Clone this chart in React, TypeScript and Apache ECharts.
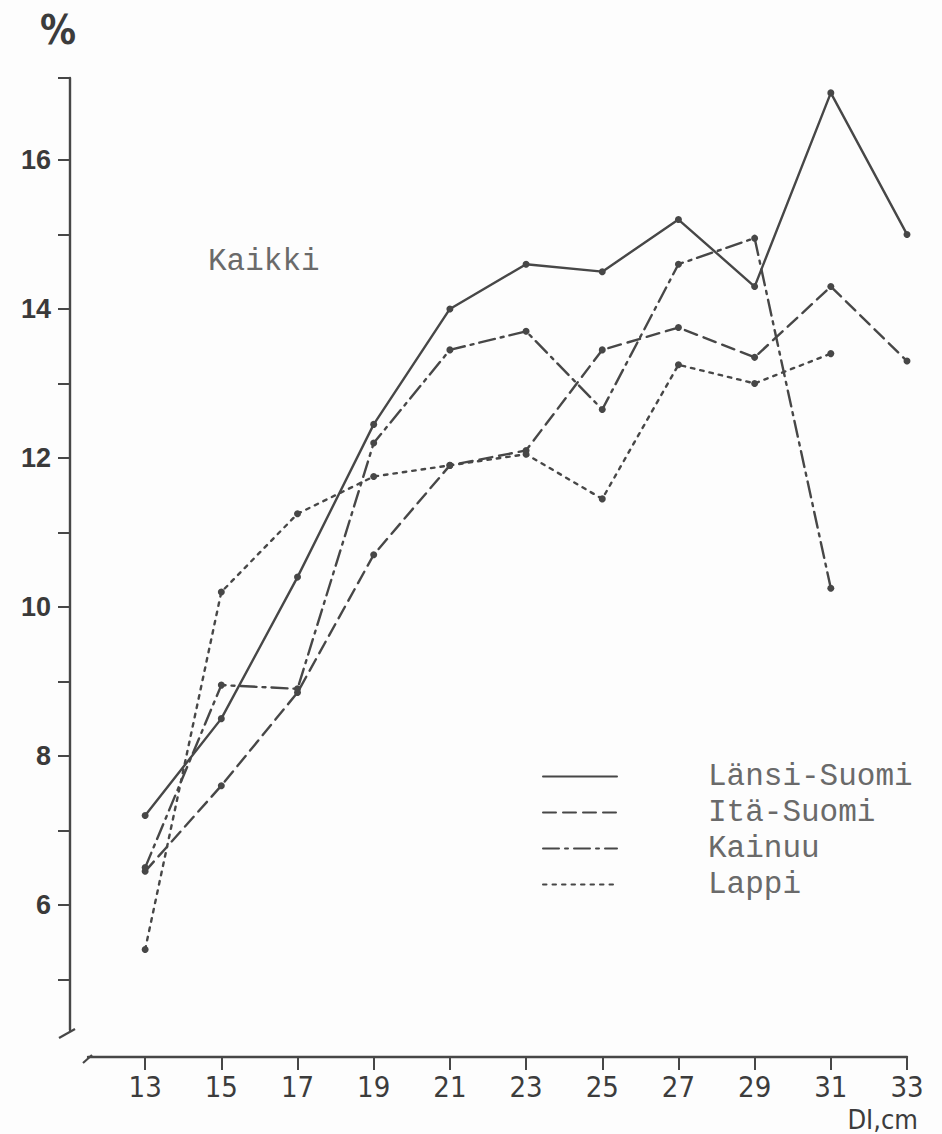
import React, { useEffect, useRef } from "react";
import * as echarts from "echarts";

// Diameter classes (DI, cm) and the share (%) for each region
const diameters = [13, 15, 17, 19, 21, 23, 25, 27, 29, 31, 33];
const lansiSuomi = [7.2, 8.5, 10.4, 12.45, 14.0, 14.6, 14.5, 15.2, 14.3, 16.9, 15.0];
const itaSuomi = [6.45, 7.6, 8.85, 10.7, 11.9, 12.1, 13.45, 13.75, 13.35, 14.3, 13.3];
const kainuu = [6.5, 8.95, 8.9, 12.2, 13.45, 13.7, 12.65, 14.6, 14.95, 10.25];
const lappi = [5.4, 10.2, 11.25, 11.75, 11.9, 12.05, 11.45, 13.25, 13.0, 13.4];

const seriesNames = ["Länsi-Suomi", "Itä-Suomi", "Kainuu", "Lappi"];

// Axis ticks and labels
const xTickValues = [13, 15, 17, 19, 21, 23, 25, 27, 29, 31, 33];
const yTickValues = [5, 6, 7, 8, 9, 10, 11, 12, 13, 14, 15, 16, 17.1];
const yLabelValues = [6, 8, 10, 12, 14, 16];

const X_MIN = 11.5;
const X_MAX = 33;
const Y_MIN = 4.32;
const Y_MAX = 17.1;

const INK = "#474747";
const TYPE_INK = "#6a6a6a";
const NARROW = "'Liberation Sans Narrow', 'DejaVu Sans Condensed', 'Liberation Sans', sans-serif";
const MONO = "'Liberation Mono', 'DejaVu Sans Mono', monospace";

const pairs = (values: number[]) => values.map((v, i) => [diameters[i], v]);

export default function App() {
  const ref = useRef<HTMLDivElement>(null);

  useEffect(() => {
    if (!ref.current) return;
    const chart = echarts.init(ref.current, null, { renderer: "svg" });

    const lineSeries = (name: string, values: number[], type: any) => ({
      name,
      type: "line",
      data: pairs(values),
      symbol: "circle",
      symbolSize: 7,
      itemStyle: { color: INK },
      lineStyle: { color: INK, width: 2.4, type, cap: "round" },
      z: 3,
    });

    chart.setOption({
      animation: false,
      backgroundColor: "#fdfdfd",
      grid: { left: 88, right: 35, top: 78, bottom: 104 },
      xAxis: {
        type: "value",
        min: X_MIN,
        max: X_MAX,
        offset: 27,
        axisLine: { show: true, lineStyle: { color: INK, width: 2.4 } },
        axisTick: {
          show: true,
          length: 13,
          customValues: xTickValues,
          lineStyle: { color: INK, width: 2 },
        },
        axisLabel: {
          customValues: xTickValues,
          margin: 15,
          fontFamily: NARROW,
          fontSize: 29,
          lineHeight: 29,
          color: "#3c3c3c",
        },
        splitLine: { show: false },
      },
      yAxis: {
        type: "value",
        min: Y_MIN,
        max: Y_MAX,
        offset: 18,
        axisLine: { show: true, lineStyle: { color: INK, width: 2.4 } },
        axisTick: {
          show: true,
          length: 12,
          customValues: yTickValues,
          lineStyle: { color: INK, width: 2 },
        },
        axisLabel: {
          customValues: yLabelValues,
          margin: 19,
          fontFamily: "'Liberation Sans', Arial, sans-serif",
          fontWeight: "bold",
          fontSize: 27,
          color: "#3a3a3a",
        },
        splitLine: { show: false },
      },
      legend: {
        orient: "vertical",
        left: 537,
        top: 756,
        itemWidth: 74,
        itemHeight: 4,
        itemGap: 5,
        itemStyle: { opacity: 0 },
        selectedMode: false,
        data: seriesNames,
        textStyle: {
          fontFamily: MONO,
          fontSize: 31,
          lineHeight: 31,
          color: TYPE_INK,
          padding: [0, 0, 0, 86],
        },
      },
      graphic: [
        {
          type: "text",
          left: 208,
          top: 246,
          style: { text: "Kaikki", font: `31px ${MONO}`, fill: TYPE_INK },
        },
        {
          type: "text",
          x: 58,
          y: 30,
          style: {
            text: "%",
            font: `bold 40px ${NARROW}`,
            fill: "#3c3c3c",
            align: "center",
            verticalAlign: "middle",
          },
        },
        {
          type: "text",
          x: 918,
          y: 1119,
          style: {
            text: "DI,cm",
            font: `27px ${NARROW}`,
            fill: "#3c3c3c",
            align: "right",
            verticalAlign: "middle",
          },
        },
        // hand-drawn hooks at the free ends of the axes
        {
          type: "line",
          shape: { x1: 75, y1: 1029, x2: 59, y2: 1038 },
          style: { stroke: INK, lineWidth: 2.2 },
        },
        {
          type: "line",
          shape: { x1: 92, y1: 1055, x2: 83, y2: 1063 },
          style: { stroke: INK, lineWidth: 2.2 },
        },
      ],
      series: [
        lineSeries(seriesNames[0], lansiSuomi, "solid"),
        lineSeries(seriesNames[1], itaSuomi, [13, 7]),
        lineSeries(seriesNames[2], kainuu, [16, 6, 3, 6]),
        lineSeries(seriesNames[3], lappi, [3.5, 6]),
      ],
    });

    return () => chart.dispose();
  }, []);

  return (
    <div
      ref={ref}
      style={{ position: "fixed", left: 0, top: 0, width: 942, height: 1134 }}
    />
  );
}
